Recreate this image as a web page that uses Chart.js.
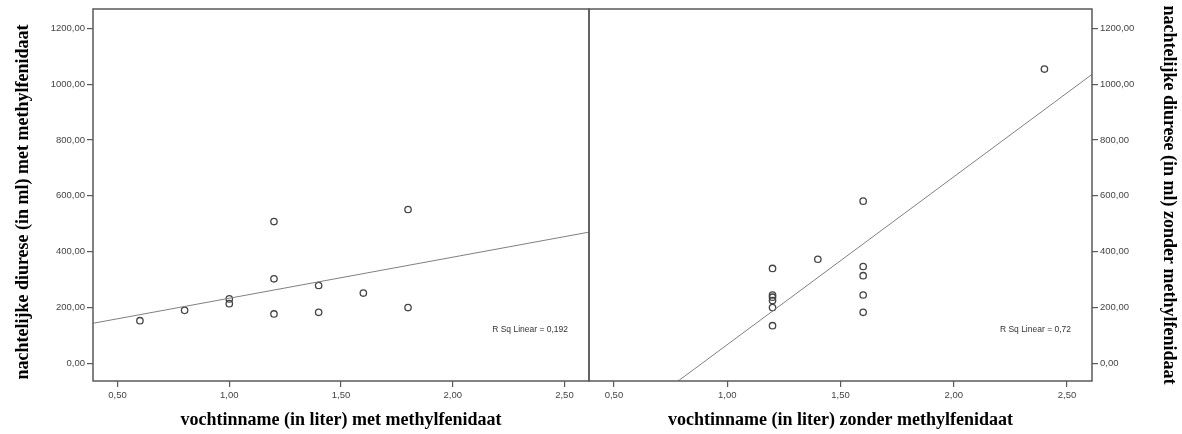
<!DOCTYPE html>
<html><head><meta charset="utf-8">
<script src="https://cdn.jsdelivr.net/npm/chart.js@4"></script>
<style>
html,body{margin:0;padding:0;background:#fff;}
#wrap{position:relative;width:1182px;height:434px;background:#fff;}
canvas{position:absolute;left:0;top:0;}
</style></head><body>
<div id="wrap"><canvas id="c1" width="1182" height="434"></canvas><canvas id="c2" width="1182" height="434"></canvas></div>
<script>
// ---- data ----
const xTicks = [0.5, 1.0, 1.5, 2.0, 2.5];
const yTicks = [0, 200, 400, 600, 800, 1000, 1200];
const leftX  = [0.6, 0.8, 1.0, 1.0, 1.2, 1.2, 1.2, 1.4, 1.4, 1.6, 1.8, 1.8];
const leftY  = [153, 190, 231, 214, 508, 303, 177, 279, 183, 252, 551, 200];
const rightX = [1.2, 1.2, 1.2, 1.2, 1.2, 1.2, 1.4, 1.6, 1.6, 1.6, 1.6, 1.6, 2.4];
const rightY = [340, 245, 237, 225, 200, 135, 373, 581, 347, 314, 245, 183, 1054];
const leftXTitle  = 'vochtinname (in liter) met methylfenidaat';
const rightXTitle = 'vochtinname (in liter) zonder methylfenidaat';
const leftYTitle  = 'nachtelijke diurese (in ml) met methylfenidaat';
const rightYTitle = 'nachtelijke diurese (in ml) zonder methylfenidaat';
const leftRsq  = 'R Sq Linear = 0,192';
const rightRsq = 'R Sq Linear = 0,72';

const X_MIN = 0.39, X_MAX = 2.61, Y_MIN = -63, Y_MAX = 1269;

function pts(xs, ys){ return xs.map((x,i)=>({x:x, y:ys[i]})); }
function fitLine(xs, ys){
  const n = xs.length;
  const mx = xs.reduce((a,b)=>a+b,0)/n, my = ys.reduce((a,b)=>a+b,0)/n;
  let sxy=0, sxx=0;
  for(let i=0;i<n;i++){ sxy += (xs[i]-mx)*(ys[i]-my); sxx += (xs[i]-mx)*(xs[i]-mx); }
  const b = sxy/sxx, a = my - b*mx;
  return [{x:X_MIN, y:a+b*X_MIN}, {x:X_MAX, y:a+b*X_MAX}];
}
const fmt = v => Number(v).toFixed(2).replace('.', ',');

const AXIS = '#5a5a5a';
const TITLE_FONT = 'bold 18px "Liberation Serif", "Times New Roman", serif';
const boxPlugin = {
  id:'box',
  afterDraw(chart, args, opts){
    const {ctx, chartArea:a} = chart;
    ctx.save();
    ctx.strokeStyle = AXIS; ctx.lineWidth = 1.5;
    ctx.strokeRect(a.left, a.top, a.right-a.left, a.bottom-a.top);
    if (opts.text){
      ctx.font = '8.5px "Liberation Sans", Arial, sans-serif';
      ctx.fillStyle = '#333'; ctx.textAlign = 'right'; ctx.textBaseline = 'middle';
      ctx.fillText(opts.text, a.right - 21, chart.scales.y.getPixelForValue(120));
    }
    if (opts.leftTitle){
      ctx.translate(23, (a.top + a.bottom)/2 + 7);
      ctx.rotate(-Math.PI/2);
      ctx.font = TITLE_FONT; ctx.fillStyle = '#000';
      ctx.textAlign = 'center'; ctx.textBaseline = 'middle';
      ctx.fillText(opts.leftTitle, 0, 0);
    }
    ctx.restore();
  }
};

function makeChart(id, xs, ys, xTitle, yTitle, rsq, side){
  const tickFont = {family:'"Liberation Sans", Arial, sans-serif', size:9.5};
  const titleFont = {family:'"Liberation Serif", "Times New Roman", serif', size:18, weight:'bold'};
  const grid = {drawOnChartArea:false, drawTicks:true, tickLength:6, color:AXIS, lineWidth:1.2};
  const isLeft = side === 'left';
  return new Chart(document.getElementById(id), {
    type:'scatter',
    data:{datasets:[
      {data:fitLine(xs, ys), showLine:true, pointRadius:0, borderColor:'#808080', borderWidth:1},
      {data:pts(xs, ys), pointRadius:3.2, pointBorderWidth:1.3, pointBorderColor:'#444', pointBackgroundColor:'rgba(255,255,255,0)'}
    ]},
    options:{
      responsive:false, animation:false, devicePixelRatio:1,
      layout:{padding: isLeft ? {top:9, left:0, right:593, bottom:0} : {top:9, left:589, right:0, bottom:0}},
      plugins:{legend:{display:false}, tooltip:{enabled:false}, box:{text:rsq, leftTitle: isLeft ? yTitle : null}},
      scales:{
        x:{type:'linear', position:'bottom', min:X_MIN, max:X_MAX,
           afterBuildTicks:s=>{ s.ticks = xTicks.map(v=>({value:v})); },
           afterFit:s=>{ s.height = 53; },
           grid:grid, border:{display:false},
           ticks:{font:tickFont, color:'#444', padding:3, maxRotation:0, autoSkip:false, callback:fmt},
           title:{display:true, text:xTitle, font:titleFont, color:'#000', padding:{top:0, bottom:3}}},
        y:{type:'linear', position:side, min:Y_MIN, max:Y_MAX,
           afterBuildTicks:s=>{ s.ticks = yTicks.map(v=>({value:v})); },
           afterFit:s=>{ s.width = isLeft ? 93 : 90; },
           grid:grid, border:{display:false},
           ticks:{font:tickFont, color:'#444', padding:2, autoSkip:false, callback:fmt},
           title:{display:!isLeft, text:yTitle, font:titleFont, color:'#000', padding:{top:3, bottom:0}}}
      }
    },
    plugins:[boxPlugin]
  });
}
makeChart('c1', leftX, leftY, leftXTitle, leftYTitle, leftRsq, 'left');
makeChart('c2', rightX, rightY, rightXTitle, rightYTitle, rightRsq, 'right');
</script>
</body></html>
